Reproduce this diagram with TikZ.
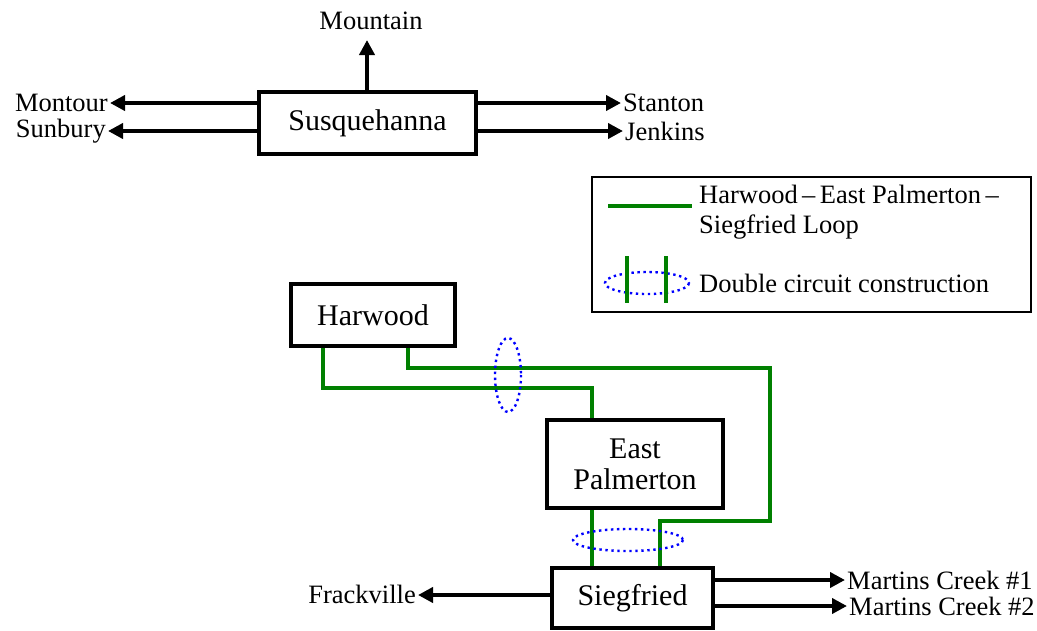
\documentclass[tikz,border=0pt]{standalone}
\usepackage{fontspec}
\setmainfont{Liberation Serif}
\usetikzlibrary{arrows.meta}
\definecolor{loopgreen}{RGB}{0,128,0}
\begin{document}
\begin{tikzpicture}[x=1pt,y=-1pt,
  station/.style={draw=black,line width=3.5pt,fill=white,inner sep=0pt,
    align=center,font=\fontsize{30}{31}\selectfont},
  lbl/.style={font=\fontsize{26.5}{30}\selectfont,inner sep=1pt},
  feed/.style={line width=4.5pt,-{Triangle[length=15pt,width=15pt]}},
  loopline/.style={draw=loopgreen,line width=3.4pt},
  dcring/.style={draw=blue,line width=2.4pt,dash pattern=on 2.4pt off 3.6pt}]
\useasboundingbox (0,0) rectangle (1037,630);

% substations
\node[station,minimum width=217pt,minimum height=62pt] (susq) at (367.5,123) {Susquehanna};
\node[station,minimum width=164pt,minimum height=62pt] (harwood) at (373,315) {Harwood};
\node[station,minimum width=176pt,minimum height=88pt] (ep) at (635,464) {East\\Palmerton};
\node[station,minimum width=161pt,minimum height=60pt] (sieg) at (632.5,598) {Siegfried};

% outgoing line labels
\node[lbl] (mountain) at (371,21) {Mountain};
\node[lbl,anchor=east] (montour) at (109,103) {Montour};
\node[lbl,anchor=east] (sunbury) at (107,131) {Sunbury};
\node[lbl,anchor=west] (stanton) at (622,103) {Stanton};
\node[lbl,anchor=west] (jenkins) at (624,131) {Jenkins};
\node[lbl,anchor=east] (frack) at (417,594) {Frackville};
\node[lbl,anchor=west] (mc1) at (846,580) {Martins Creek \#1};
\node[lbl,anchor=west] (mc2) at (848,606) {Martins Creek \#2};

% arrow tips of the outgoing lines
\coordinate (tMountain) at (367,40);
\coordinate (tMontour) at (110,103);
\coordinate (tSunbury) at (108,131);
\coordinate (tStanton) at (621,103);
\coordinate (tJenkins) at (623,131);
\coordinate (tFrack) at (418,595);
\coordinate (tMc1) at (845,580);
\coordinate (tMc2) at (847,606);

\draw[feed] (susq.north -| tMountain) -- (tMountain);
\draw[feed] (susq.west |- tMontour) -- (tMontour);
\draw[feed] (susq.west |- tSunbury) -- (tSunbury);
\draw[feed] (susq.east |- tStanton) -- (tStanton);
\draw[feed] (susq.east |- tJenkins) -- (tJenkins);
\draw[feed] (sieg.west |- tFrack) -- (tFrack);
\draw[feed] (sieg.east |- tMc1) -- (tMc1);
\draw[feed] (sieg.east |- tMc2) -- (tMc2);

% Harwood - East Palmerton - Siegfried loop
\coordinate (bendA) at (323,388);
\coordinate (bendB) at (592,388);
\coordinate (bendC) at (408,368);
\coordinate (bendD) at (770,368);
\coordinate (bendE) at (770,521);
\coordinate (bendF) at (660,521);
\draw[loopline] (harwood.south -| bendA) -- (bendA) -- (bendB) -- (ep.north -| bendB);
\draw[loopline] (harwood.south -| bendC) -- (bendC) -- (bendD) -- (bendE) -- (bendF) -- (sieg.north -| bendF);
\draw[loopline] (ep.south -| bendB) -- (sieg.north -| bendB);

% double circuit sections
\draw[dcring] (508,375) ellipse [x radius=13, y radius=37];
\draw[dcring] (628,540) ellipse [x radius=55, y radius=11];

% legend
\node[draw=black,line width=1.8pt,minimum width=439pt,minimum height=135pt,inner sep=0pt] (legend) at (811.5,244.5) {};
\coordinate (keyA) at (608,206);
\coordinate (keyB) at (692,206);
\draw[loopline] (keyA) -- (keyB);
\node[lbl,anchor=west,align=left] (keyloop) at (698,212) {Harwood\,–\,East Palmerton\,–\\Siegfried Loop};
\draw[dcring] (647,283) ellipse [x radius=42, y radius=11];
\coordinate (keyC) at (627,256);
\coordinate (keyD) at (666,256);
\draw[loopline] (keyC) -- ++(0,47);
\draw[loopline] (keyD) -- ++(0,47);
\node[lbl,anchor=west] (keydc) at (698,283) {Double circuit construction};
\end{tikzpicture}
\end{document}
